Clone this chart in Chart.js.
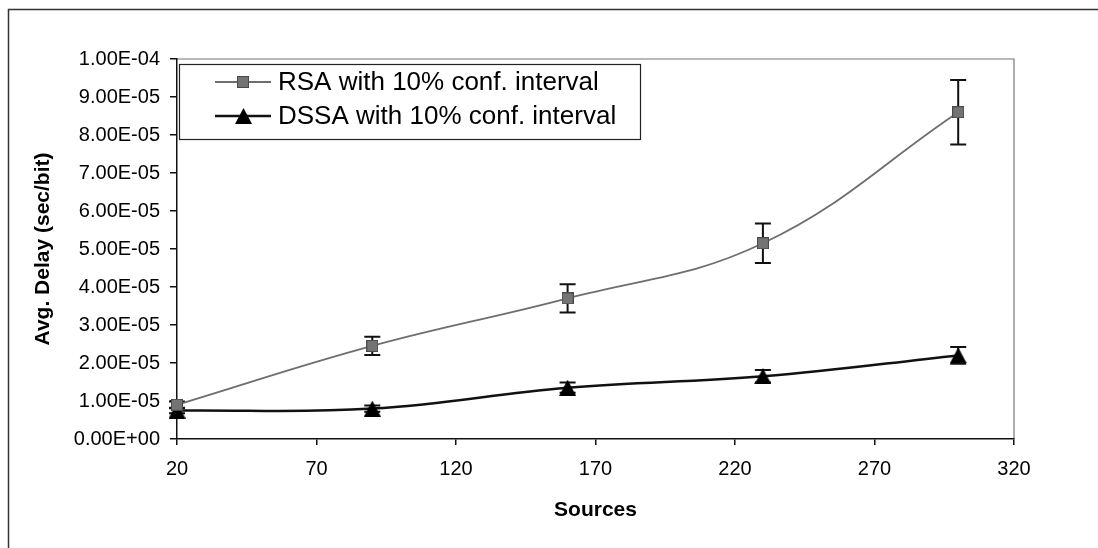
<!DOCTYPE html>
<html>
<head>
<meta charset="utf-8">
<script src="https://cdn.jsdelivr.net/npm/chart.js@4.4.1/dist/chart.umd.min.js"></script>
<style>
  html, body { margin: 0; padding: 0; background: #fff; }
  #wrap { width: 1098px; height: 548px; }
</style>
</head>
<body>
<div id="wrap"><canvas id="delayChart" width="1098" height="548"></canvas></div>
<script>
// Average delay per bit vs. number of sources
const sources = [20, 90, 160, 230, 300];
const rsaDelay = [9.0e-6, 2.45e-5, 3.7e-5, 5.15e-5, 8.6e-5];
const rsaError = [0.9e-6, 2.4e-6, 3.7e-6, 5.2e-6, 8.5e-6];
const dssaDelay = [7.5e-6, 8.0e-6, 1.35e-5, 1.65e-5, 2.2e-5];
const dssaError = [0.75e-6, 0.8e-6, 1.35e-6, 1.65e-6, 2.2e-6];
const xTicks = [20, 70, 120, 170, 220, 270, 320];
const yTicks = [0, 1e-5, 2e-5, 3e-5, 4e-5, 5e-5, 6e-5, 7e-5, 8e-5, 9e-5, 1e-4];
const seriesLabels = ['RSA with 10% conf. interval', 'DSSA with 10% conf. interval'];

const FONT = 'Arial, "Liberation Sans", sans-serif';

// Excel style scientific label, e.g. 1.00E-05
function sci(v) {
    if (Math.abs(v) < 1e-12) return '0.00E+00';
    const parts = v.toExponential(2).split('e');
    const n = parseInt(parts[1], 10);
    return parts[0].toUpperCase() + 'E' + (n < 0 ? '-' : '+') + String(Math.abs(n)).padStart(2, '0');
}

function toPoints(values, errors) {
    return sources.map((s, i) => ({ x: s, y: values[i], err: errors[i] }));
}

// Marker sprites, centred on the point
function squareMarker(size) {
    const c = document.createElement('canvas');
    c.width = size; c.height = size;
    const g = c.getContext('2d');
    g.fillStyle = '#747474';
    g.fillRect(0, 0, size, size);
    g.strokeStyle = '#4a4a4a';
    g.lineWidth = 1;
    g.strokeRect(0.5, 0.5, size - 1, size - 1);
    return c;
}

function triangleMarker(w, h) {
    const c = document.createElement('canvas');
    c.width = w; c.height = h;
    const g = c.getContext('2d');
    g.fillStyle = '#000';
    g.beginPath();
    g.moveTo(w / 2, 0);
    g.lineTo(w, h);
    g.lineTo(0, h);
    g.closePath();
    g.fill();
    return c;
}

const rsaMarker = squareMarker(12);
const dssaMarker = triangleMarker(17, 16);

// Outer frame + top/right plot border
const framePlugin = {
    id: 'frame',
    beforeDraw(chart) {
        const { ctx, chartArea: a } = chart;
        ctx.save();
        ctx.fillStyle = '#fff';
        ctx.fillRect(0, 0, chart.width, chart.height);
        ctx.strokeStyle = '#333';
        ctx.lineWidth = 1.5;
        ctx.beginPath();
        ctx.moveTo(8.5, chart.height);
        ctx.lineTo(8.5, 9.5);
        ctx.lineTo(chart.width, 9.5);
        ctx.stroke();
        ctx.strokeStyle = '#777';
        ctx.lineWidth = 1.2;
        ctx.beginPath();
        ctx.moveTo(a.left, a.top);
        ctx.lineTo(a.right, a.top);
        ctx.lineTo(a.right, a.bottom);
        ctx.stroke();
        ctx.restore();
    }
};

// Vertical error bars with caps
const errorBarPlugin = {
    id: 'errorBars',
    beforeDatasetsDraw(chart) {
        const { ctx, scales: { x, y } } = chart;
        ctx.save();
        ctx.strokeStyle = '#111';
        ctx.lineWidth = 2;
        chart.data.datasets.forEach(ds => {
            ds.data.forEach(pt => {
                const px = x.getPixelForValue(pt.x);
                const top = y.getPixelForValue(pt.y + pt.err);
                const bot = y.getPixelForValue(pt.y - pt.err);
                ctx.beginPath();
                ctx.moveTo(px, top); ctx.lineTo(px, bot);
                ctx.moveTo(px - 8, top); ctx.lineTo(px + 8, top);
                ctx.moveTo(px - 8, bot); ctx.lineTo(px + 8, bot);
                ctx.stroke();
            });
        });
        ctx.restore();
    }
};

// Boxed legend in the upper left of the plot
const boxLegendPlugin = {
    id: 'boxLegend',
    afterDraw(chart) {
        const { ctx } = chart;
        const box = { x: 179.5, y: 64.5, w: 461, h: 75 };
        ctx.save();
        ctx.fillStyle = '#fff';
        ctx.fillRect(box.x, box.y, box.w, box.h);
        ctx.strokeStyle = '#222';
        ctx.lineWidth = 1.2;
        ctx.strokeRect(box.x, box.y, box.w, box.h);
        const rows = [82, 116];
        chart.data.datasets.forEach((ds, i) => {
            const cy = rows[i];
            ctx.strokeStyle = ds.borderColor;
            ctx.lineWidth = ds.borderWidth;
            ctx.beginPath();
            ctx.moveTo(215, cy);
            ctx.lineTo(271, cy);
            ctx.stroke();
            const m = ds.pointStyle;
            ctx.drawImage(m, Math.round(243 - m.width / 2), Math.round(cy - m.height / 2));
            ctx.fillStyle = '#000';
            ctx.font = '26px ' + FONT;
            ctx.textBaseline = 'middle';
            ctx.textAlign = 'left';
            ctx.fillText(ds.label, 278, cy + 1);
        });
        ctx.restore();
    }
};

const ctx = document.getElementById('delayChart').getContext('2d');
new Chart(ctx, {
    type: 'line',
    data: {
        datasets: [
            {
                label: seriesLabels[0],
                data: toPoints(rsaDelay, rsaError),
                borderColor: '#6e6e6e',
                borderWidth: 1.8,
                pointStyle: rsaMarker,
                pointRadius: 7,
                tension: 0.4,
                clip: false
            },
            {
                label: seriesLabels[1],
                data: toPoints(dssaDelay, dssaError),
                borderColor: '#111',
                borderWidth: 2.5,
                pointStyle: dssaMarker,
                pointRadius: 8,
                tension: 0.4,
                clip: false
            }
        ]
    },
    options: {
        responsive: false,
        devicePixelRatio: 1,
        animation: false,
        layout: { padding: { left: 0, top: 59, right: 84, bottom: 0 } },
        plugins: {
            legend: { display: false },
            tooltip: { enabled: false }
        },
        scales: {
            x: {
                type: 'linear',
                min: 20,
                max: 320,
                afterBuildTicks: s => { s.ticks = xTicks.map(v => ({ value: v })); },
                afterFit: s => { s.height = 109; },
                grid: { drawOnChartArea: false, tickLength: 6, tickColor: '#111', lineWidth: 1.5 },
                border: { color: '#111', width: 1.5 },
                ticks: { color: '#000', font: { family: FONT, size: 20 }, padding: 12, maxRotation: 0, autoSkip: false },
                title: {
                    display: true,
                    text: 'Sources',
                    color: '#000',
                    font: { family: FONT, size: 21, weight: 'bold' },
                    padding: { top: 4, bottom: 25 }
                }
            },
            y: {
                type: 'linear',
                min: 0,
                max: 1e-4,
                afterBuildTicks: s => { s.ticks = yTicks.map(v => ({ value: v })); },
                afterFit: s => { s.width = 177; },
                grid: { drawOnChartArea: false, tickLength: 7, tickColor: '#111', lineWidth: 1.5 },
                border: { color: '#111', width: 1.5 },
                ticks: { color: '#000', font: { family: FONT, size: 20 }, padding: 10, callback: v => sci(v) },
                title: {
                    display: true,
                    text: 'Avg. Delay (sec/bit)',
                    color: '#000',
                    font: { family: FONT, size: 21, weight: 'bold' },
                    padding: { top: 31, bottom: 4 }
                }
            }
        }
    },
    plugins: [framePlugin, errorBarPlugin, boxLegendPlugin]
});
</script>
</body>
</html>
